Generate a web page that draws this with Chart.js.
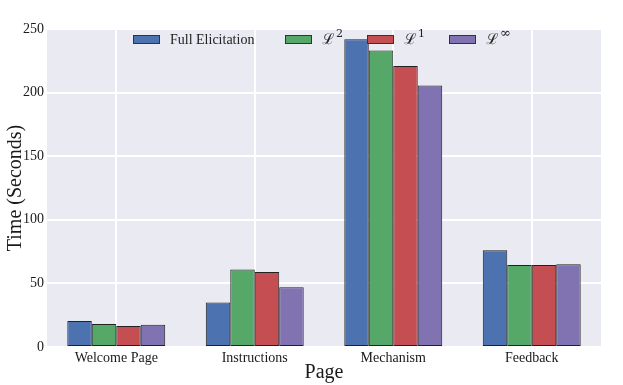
<!DOCTYPE html>
<html>
<head>
<meta charset="utf-8">
<script src="https://cdn.jsdelivr.net/npm/chart.js@4/dist/chart.umd.min.js"></script>
<style>
  html, body { margin: 0; padding: 0; background: #ffffff; }
  #wrap { width: 623px; height: 385px; }
</style>
</head>
<body>
<div id="wrap"><canvas id="c" width="623" height="385"></canvas></div>
<script>
const categories = ['Welcome Page', 'Instructions', 'Mechanism', 'Feedback'];
const fullElicitation = [20.5, 35, 242, 76];
const l2Values = [18, 61, 233, 64.5];
const l1Values = [16.5, 59, 221, 64.5];
const lInfValues = [17.5, 47, 205.5, 65];
const seriesNames = ['Full Elicitation', 'ℒ', 'ℒ', 'ℒ'];
const seriesSup = ['', '2', '1', '∞'];
const yTicks = [0, 50, 100, 150, 200, 250];

const colors = ['#4C72B0', '#55A868', '#C44E52', '#8172B2'];
const serif = '"Liberation Serif", "DejaVu Serif", serif';

const bgPlugin = {
  id: 'bg',
  beforeDraw(chart) {
    const { ctx, chartArea: a } = chart;
    ctx.save();
    ctx.fillStyle = '#EAEAF2';
    ctx.fillRect(a.left, a.top, a.right - a.left, a.bottom - a.top);
    ctx.restore();
  }
};

const legendPlugin = {
  id: 'mplLegend',
  afterDatasetsDraw(chart) {
    const { ctx, chartArea: a } = chart;
    const boxX = [86, 238, 320, 402];
    const textX = [123, 275, 357, 439];
    const boxY = a.top + 6, boxW = 27, boxH = 9;
    const baseY = a.top + 15;
    ctx.save();
    chart.data.datasets.forEach((ds, i) => {
      const bx = a.left + boxX[i];
      ctx.fillStyle = ds.backgroundColor;
      ctx.fillRect(bx, boxY, boxW, boxH);
      ctx.strokeStyle = '#333';
      ctx.lineWidth = 1;
      ctx.strokeRect(bx + 0.5, boxY + 0.5, boxW - 1, boxH - 1);
      ctx.fillStyle = '#222';
      ctx.textBaseline = 'alphabetic';
      ctx.textAlign = 'left';
      const tx = a.left + textX[i];
      if (seriesSup[i]) {
        ctx.font = '15px "DejaVu Serif", serif';
        ctx.fillText(seriesNames[i], tx, baseY);
        const w = ctx.measureText(seriesNames[i]).width;
        ctx.font = (seriesSup[i] === '∞' ? '13px ' : '11px ') + '"DejaVu Serif", serif';
        ctx.fillText(seriesSup[i], tx + w + 1, baseY - 7);
      } else {
        ctx.font = '14px ' + serif;
        ctx.fillText(seriesNames[i], tx, baseY);
      }
    });
    ctx.restore();
  }
};

const datasets = [fullElicitation, l2Values, l1Values, lInfValues].map((vals, i) => ({
  label: seriesNames[i] + seriesSup[i],
  data: vals,
  backgroundColor: colors[i],
  borderColor: '#222',
  borderWidth: 1,
  borderSkipped: false,
  categoryPercentage: 0.707,
  barPercentage: 1.0
}));

new Chart(document.getElementById('c'), {
  type: 'bar',
  data: { labels: categories, datasets },
  plugins: [bgPlugin, legendPlugin],
  options: {
    responsive: false,
    animation: false,
    layout: { padding: { top: 29, right: 22, bottom: 0, left: 0 } },
    plugins: { legend: { display: false }, tooltip: { enabled: false } },
    scales: {
      x: {
        offset: true,
        grid: { display: true, offset: false, color: '#ffffff', lineWidth: 2, drawTicks: false },
        border: { display: false },
        ticks: { color: '#1a1a1a', font: { family: serif, size: 14 }, padding: 3, maxRotation: 0 },
        title: { display: true, text: 'Page', color: '#1a1a1a', font: { family: serif, size: 20 }, padding: { top: 0, bottom: 0 } },
        afterFit(s) { s.height = 38; }
      },
      y: {
        min: 0, max: 250,
        afterBuildTicks(s) { s.ticks = yTicks.map(v => ({ value: v })); },
        grid: { color: '#ffffff', lineWidth: 2, drawTicks: false },
        border: { display: false },
        ticks: { color: '#1a1a1a', font: { family: serif, size: 14 }, padding: 3 },
        title: { display: true, text: 'Time (Seconds)', color: '#1a1a1a', font: { family: serif, size: 20 }, padding: { top: 4, bottom: 0 } },
        afterFit(s) { s.width = 47; }
      }
    }
  }
});
</script>
</body>
</html>
